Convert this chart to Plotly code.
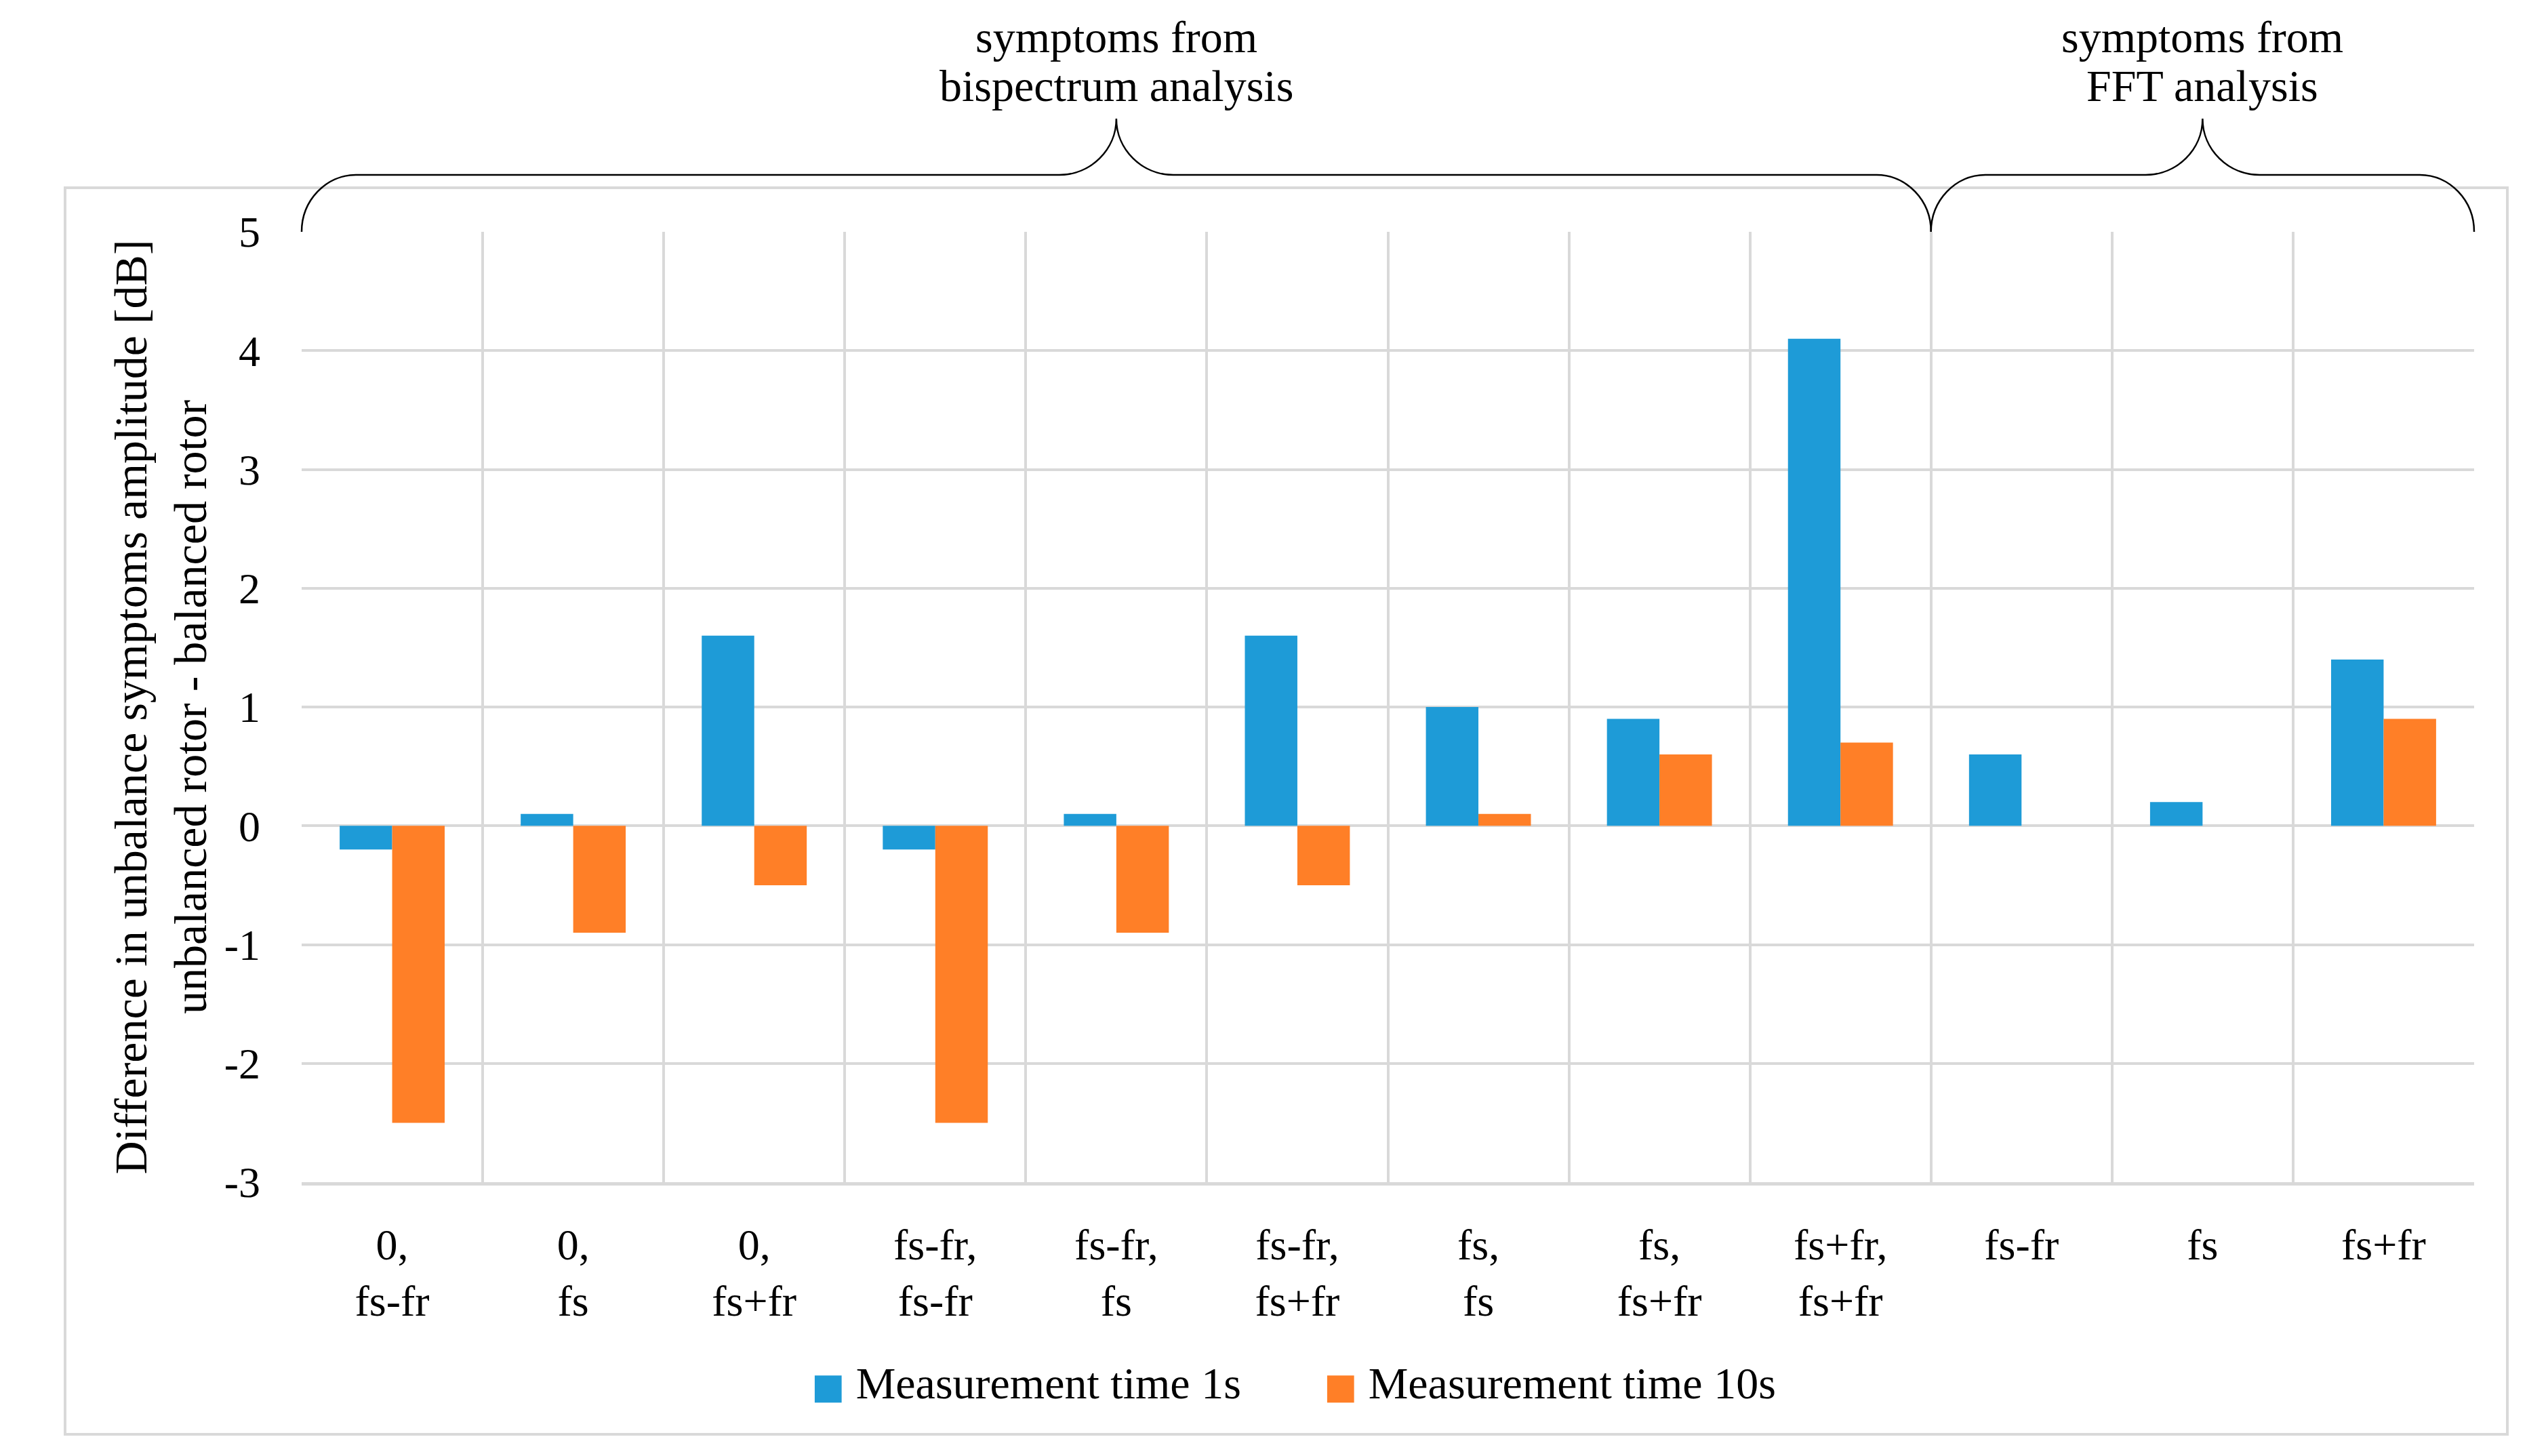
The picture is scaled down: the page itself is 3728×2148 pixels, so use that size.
import plotly.graph_objects as go

# ---- data ----
categories = ["0,<br>fs-fr", "0,<br>fs", "0,<br>fs+fr",
              "fs-fr,<br>fs-fr", "fs-fr,<br>fs", "fs-fr,<br>fs+fr",
              "fs,<br>fs", "fs,<br>fs+fr", "fs+fr,<br>fs+fr",
              "fs-fr", "fs", "fs+fr"]
time_1s = [-0.2, 0.1, 1.6, -0.2, 0.1, 1.6, 1.0, 0.9, 4.1, 0.6, 0.2, 1.4]
time_10s = [-2.5, -0.9, -0.5, -2.5, -0.9, -0.5, 0.1, 0.6, 0.7, None, None, 0.9]
series_names = ["Measurement time 1s", "Measurement time 10s"]
group_lines = [["symptoms from", "bispectrum analysis"], ["symptoms from", "FFT analysis"]]
group_sizes = [9, 3]
y_tick_values = [5, 4, 3, 2, 1, 0, -1, -2, -3]
y_tick_labels = ["5", "4", "3", "2", "1", "0", "-1", "-2", "-3"]
y_title = "Difference in unbalance symptoms amplitude [dB]<br>unbalanced rotor - balanced rotor"

# ---- styles ----
BLUE = "#1E9BD7"
ORANGE = "#FF7F27"
GRID = "#D9D9D9"
FONT = "Liberation Serif"
colors = [BLUE, ORANGE]

fig = go.Figure()
for name, vals, col in zip(series_names, [time_1s, time_10s], colors):
    fig.add_trace(go.Bar(x=categories, y=vals, name=name,
                         marker=dict(color=col, line=dict(width=0))))

# page body has an 8px margin; size the figure so the window shows it without scrolling
W, H = 3712, 2132
ml, mt = 437, 334
pw, ph = 3205, 1402
mr = W - ml - pw
mb = H - mt - ph

def px_x(p):
    return p / pw

def px_y(p):
    return p / ph

# braces above the groups
n_total = sum(group_sizes)
y0 = 1.0
yh = 1.0 + px_y(84)
yp = 1.0 + px_y(167)
dxe = px_x(80)
dxc = px_x(84)
k = 0.55
shapes = []
annotations = []
start = 0
line_offsets = [342 - 54, 342 - 127]
for size, lines in zip(group_sizes, group_lines):
    a = start / n_total
    b = (start + size) / n_total
    c = (a + b) / 2
    path = (
        f"M{a},{y0} "
        f"C{a},{y0 + k*(yh-y0)} {a + dxe*(1-k)},{yh} {a + dxe},{yh} "
        f"L{c - dxc},{yh} "
        f"C{c - dxc + k*dxc},{yh} {c},{yp - k*(yp-yh)} {c},{yp} "
        f"C{c},{yp - k*(yp-yh)} {c + dxc - k*dxc},{yh} {c + dxc},{yh} "
        f"L{b - dxe},{yh} "
        f"C{b - dxe*(1-k)},{yh} {b},{y0 + k*(yh-y0)} {b},{y0}"
    )
    shapes.append(dict(type="path", path=path, xref="paper", yref="paper",
                       line=dict(color="black", width=2.5)))
    for txt, off in zip(lines, line_offsets):
        annotations.append(dict(text=txt, x=c, y=1.0 + px_y(off), xref="paper", yref="paper",
                                xanchor="center", yanchor="middle", showarrow=False,
                                font=dict(family=FONT, size=66, color="black")))
    start += size

# legend drawn as text entries with coloured square glyphs
legend_x = [px_x(1195 - 445), px_x(1951 - 445)]
for name, col, lx in zip(series_names, colors, legend_x):
    annotations.append(dict(
        text=f"<span style='color:{col};font-size:52px;font-family:DejaVu Sans'>■</span> {name}",
        x=lx, y=-px_y(2040 - 1744), xref="paper", yref="paper",
        xanchor="left", yanchor="middle", showarrow=False,
        font=dict(family=FONT, size=66, color="black")))

# outer frame
shapes.append(dict(type="rect", xref="paper", yref="paper",
                   x0=-px_x(445 - 96), x1=1 + px_x(3699 - 3650),
                   y0=-px_y(2116 - 1744), y1=1 + px_y(342 - 277),
                   line=dict(color=GRID, width=4), layer="below"))

fig.update_layout(
    width=W, height=H,
    margin=dict(l=ml, r=mr, t=mt, b=mb, autoexpand=False),
    paper_bgcolor="white", plot_bgcolor="white",
    font=dict(family=FONT, size=64, color="black"),
    barmode="group", bargap=0.42, bargroupgap=0,
    shapes=shapes, annotations=annotations,
    showlegend=False,
)
fig.update_xaxes(type="category", tickson="boundaries", showgrid=True,
                 gridcolor=GRID, gridwidth=4, ticks="", showline=True,
                 linecolor=GRID, linewidth=5, ticklabelstandoff=32,
                 tickfont=dict(family=FONT, size=64, color="black"))
fig.update_yaxes(range=[-3, 5], tickvals=y_tick_values, ticktext=y_tick_labels,
                 showgrid=True, gridcolor=GRID,
                 gridwidth=4, zeroline=True, zerolinecolor=GRID, zerolinewidth=4,
                 ticks="", ticklabelstandoff=60, showline=False,
                 tickfont=dict(family=FONT, size=64, color="black"),
                 title=dict(text=y_title, standoff=3,
                            font=dict(family=FONT, size=68, color="black")))

fig.write_html("out.html")
